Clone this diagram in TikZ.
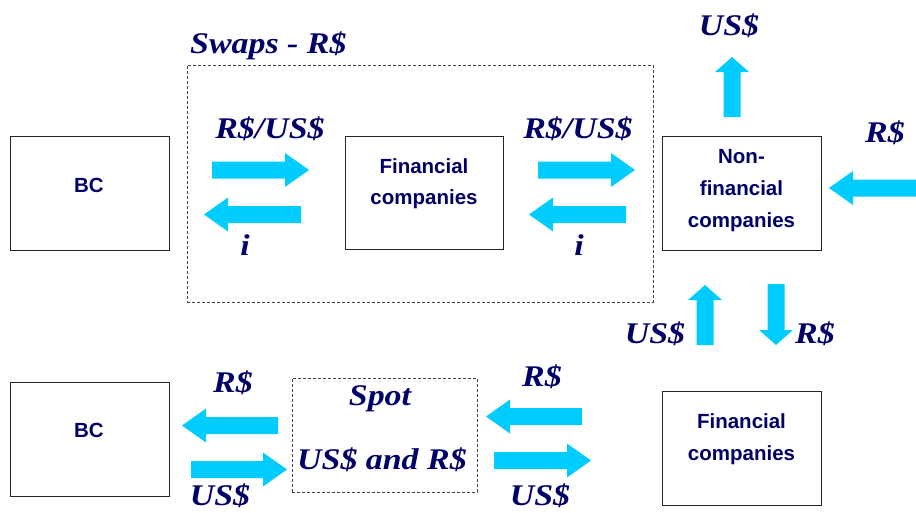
\documentclass[tikz,border=0pt]{standalone}
\usepackage{fontspec}
\setmainfont{Liberation Serif}
\newfontfamily\boxfont{Liberation Sans}
\newfontfamily\lblfont[FakeStretch=1.13]{Liberation Serif}
\definecolor{navy}{RGB}{0,0,102}
\definecolor{flowc}{RGB}{0,204,255}
\newcommand\hflow[3]{% tail x, tip x, centre y
  \pgfmathsetmacro\hb{#2-24*sign(#2-#1)}
  \fill[flowc] (#1,#3-8.5) -- (\hb,#3-8.5) -- (\hb,#3-17) -- (#2,#3) -- (\hb,#3+17) -- (\hb,#3+8.5) -- (#1,#3+8.5) -- cycle;}
\newcommand\vflow[3]{% centre x, tail y, tip y
  \pgfmathsetmacro\vb{#3-15*sign(#3-#2)}
  \fill[flowc] (#1-8.5,#2) -- (#1-8.5,\vb) -- (#1-17,\vb) -- (#1,#3) -- (#1+17,\vb) -- (#1+8.5,\vb) -- (#1+8.5,#2) -- cycle;}
\begin{document}
\begin{tikzpicture}[x=1pt,y=-1pt,
  box/.style={draw=black!85,line width=1pt,fill=white,inner sep=0pt},
  dbox/.style={draw=black!75,line width=0.9pt,dash pattern=on 3pt off 2pt,inner sep=0pt},
  btext/.style={font=\boxfont\bfseries\fontsize{20.5}{32}\selectfont,text=navy,align=center,inner sep=0pt},
  lbl/.style={font=\lblfont\bfseries\itshape\fontsize{30}{34}\selectfont,text=navy,inner sep=0pt,anchor=base}]
\useasboundingbox (0,0) rectangle (916,512);
% boxes
\node[box,minimum width=159pt,minimum height=114pt] (bc1) at (89.5,193) {};
\node[box,minimum width=158pt,minimum height=113pt] (fc1) at (424,192.5) {};
\node[box,minimum width=159pt,minimum height=114pt] (nfc) at (741.5,193) {};
\node[box,minimum width=159pt,minimum height=114pt] (bc2) at (89.5,439) {};
\node[box,minimum width=159pt,minimum height=114pt] (fc2) at (741.5,448) {};
\node[dbox,minimum width=466pt,minimum height=237pt] (swapbox) at (420,183.5) {};
\node[dbox,minimum width=185pt,minimum height=114pt] (spotbox) at (384.5,435) {};
% box texts
\node[btext,anchor=base] (tbc1) at (89,192) {BC};
\node[btext,anchor=base] (tbc2) at (89,437) {BC};
\node[btext,anchor=north,font=\boxfont\bfseries\fontsize{20.5}{31}\selectfont] (tfc1) at (424,158.3) {Financial\\companies};
\node[btext,anchor=north] (tnfc) at (741.5,149.3) {Non-\\financial\\companies};
\node[btext,anchor=north] (tfc2) at (741.5,413.3) {Financial\\companies};
% arrows
\hflow{212}{309}{170}
\hflow{301}{204}{214.5}
\hflow{538}{635}{170}
\hflow{626}{529}{214.5}
\vflow{732}{117}{57}
\hflow{920}{829}{188}
\vflow{705}{345}{285}
\vflow{776}{284}{345}
\hflow{278}{182}{425.5}
\hflow{191}{287}{469.5}
\hflow{582}{486}{416.5}
\hflow{494}{591}{460.5}
% labels
\node[lbl,anchor=base west] (lswap) at (190,53) {Swaps - R\$};
\node[lbl] (l1) at (270,138) {R\$/US\$};
\node[lbl] (l2) at (578,138) {R\$/US\$};
\node[lbl] (l3) at (245,255) {i};
\node[lbl] (l4) at (579,255) {i};
\node[lbl] (l5) at (729,35) {US\$};
\node[lbl] (l6) at (885,142) {R\$};
\node[lbl] (l7) at (655,343) {US\$};
\node[lbl] (l8) at (815,343) {R\$};
\node[lbl] (l9) at (233,392) {R\$};
\node[lbl] (l10) at (220,505) {US\$};
\node[lbl] (l11) at (380,405) {Spot};
\node[lbl] (l12) at (382,469) {US\$ and R\$};
\node[lbl] (l13) at (542,386) {R\$};
\node[lbl] (l14) at (540,505) {US\$};
\end{tikzpicture}
\end{document}
